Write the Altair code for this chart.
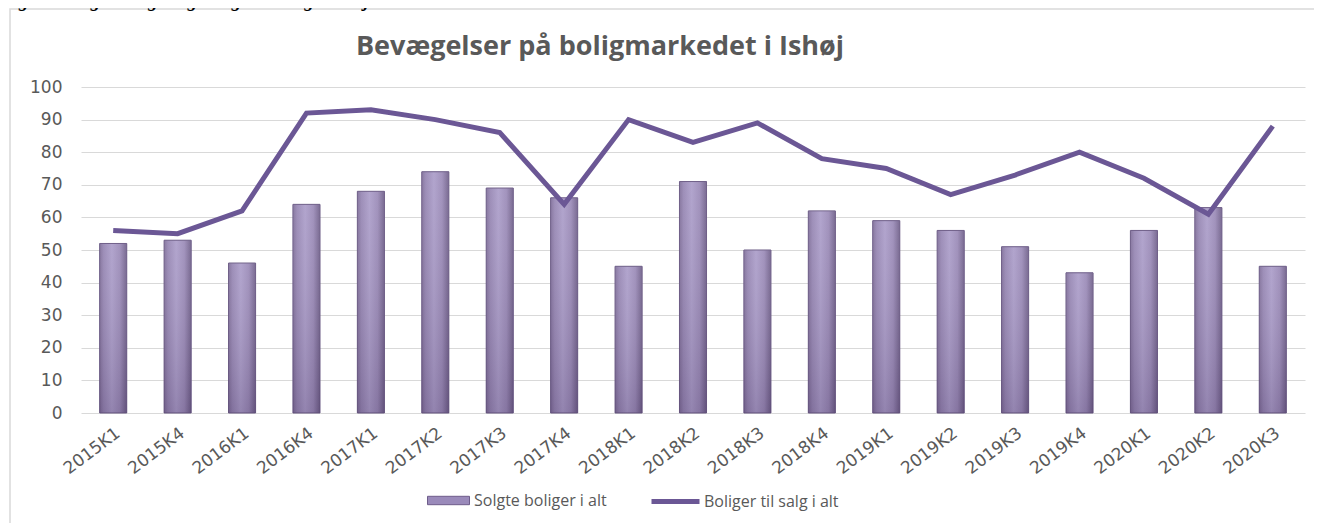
import altair as alt
import pandas as pd

quarters = ["2015K1", "2015K4", "2016K1", "2016K4", "2017K1", "2017K2", "2017K3",
            "2017K4", "2018K1", "2018K2", "2018K3", "2018K4", "2019K1", "2019K2",
            "2019K3", "2019K4", "2020K1", "2020K2", "2020K3"]
sold = [52, 53, 46, 64, 68, 74, 69, 66, 45, 71, 50, 62, 59, 56, 51, 43, 56, 63, 45]
for_sale = [56, 55, 62, 92, 93, 90, 86, 64, 90, 83, 89, 78, 75, 67, 73, 80, 72, 61, 88]
y_ticks = [0, 10, 20, 30, 40, 50, 60, 70, 80, 90, 100]

bar_name = "Solgte boliger i alt"
line_name = "Boliger til salg i alt"
title_text = "Bevægelser på boligmarkedet  i Ishøj"
caption_text = "Figur 3 Solgte boliger og boliger til salg i Ishøj Kommune"

df = pd.DataFrame({
    "q": quarters,
    "sold": sold,
    "for_sale": for_sale,
    "bar_series": bar_name,
    "line_series": line_name,
})

GRAY = "#595959"
FONT = "DejaVu Sans"

x_enc = alt.X(
    "q:N", sort=quarters, title=None,
    scale=alt.Scale(paddingInner=0.58, paddingOuter=0.29),
    axis=alt.Axis(labelAngle=-37, labelAlign="right", labelBaseline="middle",
                  labelPadding=18, labelOffset=5, labelFont=FONT, labelFontSize=17,
                  labelColor=GRAY, domain=False, ticks=False, grid=False),
)
y_scale = alt.Scale(domain=[0, 100], nice=False)
y_axis = alt.Axis(values=y_ticks, labelFont=FONT, labelFontSize=17,
                  labelColor=GRAY, labelPadding=19, domain=False, ticks=False,
                  gridColor="#d9d9d9", gridWidth=1, labelOverlap=False)


def y_of(field):
    return alt.Y(f"{field}:Q", scale=y_scale, title=None, axis=y_axis)


base = alt.Chart(df)

bars_legend = base.mark_bar().encode(
    x=x_enc, y=y_of("sold"),
    fill=alt.Fill("bar_series:N",
                  scale=alt.Scale(domain=[bar_name], range=["#9a8aba"]),
                  legend=alt.Legend(title=None, orient="none", legendX=346, legendY=392,
                                    symbolType="M-1,-0.2L1,-0.2L1,0.2L-1,0.2Z",
                                    symbolSize=1764, symbolStrokeColor="#6e5d8a",
                                    symbolStrokeWidth=1, labelFont="Open Sans",
                                    labelFontSize=16, labelColor=GRAY, labelOffset=4)),
)

bars_grad = base.mark_bar(
    fill=alt.Gradient(
        gradient="linear", x1=0, x2=1, y1=0, y2=0,
        stops=[alt.GradientStop(offset=0, color="#7f6e99"),
               alt.GradientStop(offset=0.15, color="#9686b3"),
               alt.GradientStop(offset=0.45, color="#ab9dc9"),
               alt.GradientStop(offset=0.75, color="#9a8ab7"),
               alt.GradientStop(offset=1, color="#6f5f89")]),
    stroke="#6a5a84", strokeWidth=1,
).encode(x=x_enc, y=y_of("sold"))

bars_shade = base.mark_bar(
    fill=alt.Gradient(
        gradient="linear", x1=0, x2=0, y1=0, y2=1,
        stops=[alt.GradientStop(offset=0, color="rgba(255,255,255,0.08)"),
               alt.GradientStop(offset=1, color="rgba(40,20,60,0.18)")]),
).encode(x=x_enc, y=y_of("sold"))

line = base.mark_line(strokeWidth=5).encode(
    x=x_enc,
    y=y_of("for_sale"),
    stroke=alt.Stroke("line_series:N",
                      scale=alt.Scale(domain=[line_name], range=["#6b5795"]),
                      legend=alt.Legend(title=None, orient="none", legendX=568, legendY=388,
                                        symbolType="stroke", symbolSize=2304,
                                        symbolStrokeWidth=5, labelFont="Open Sans",
                                        labelFontSize=16, labelColor=GRAY, labelOffset=2)),
)

frame = alt.Chart(pd.DataFrame({"k": [0]})).mark_rect(
    fill="transparent", stroke="#d9d9d9", strokeWidth=1.5
).encode(x=alt.value(-71), x2=alt.value(1300), y=alt.value(-78), y2=alt.value(600))

title = alt.Chart(pd.DataFrame({"t": [title_text]})).mark_text(
    font="Open Sans", fontWeight="bold", fontSize=27, color=GRAY,
    align="center", baseline="alphabetic",
).encode(text="t:N", x=alt.value(519), y=alt.value(-32))

caption = alt.Chart(pd.DataFrame({"t": [caption_text]})).mark_text(
    font="Liberation Serif", fontWeight="bold", fontStyle="italic", fontSize=19,
    color="#000000", align="left", baseline="alphabetic",
).encode(text="t:N", x=alt.value(-80), y=alt.value(-80))

chart = alt.layer(frame, caption, title, bars_legend, bars_grad, bars_shade, line).resolve_scale(
    fill="independent", stroke="independent"
).properties(
    width=1224, height=326,
    autosize=alt.AutoSizeParams(type="none"),
    padding={"left": 73, "top": 79, "right": 9, "bottom": 110},
    background="white",
).configure_view(stroke=None)

chart.save("out.html", embed_options={"renderer": "svg", "actions": False})
